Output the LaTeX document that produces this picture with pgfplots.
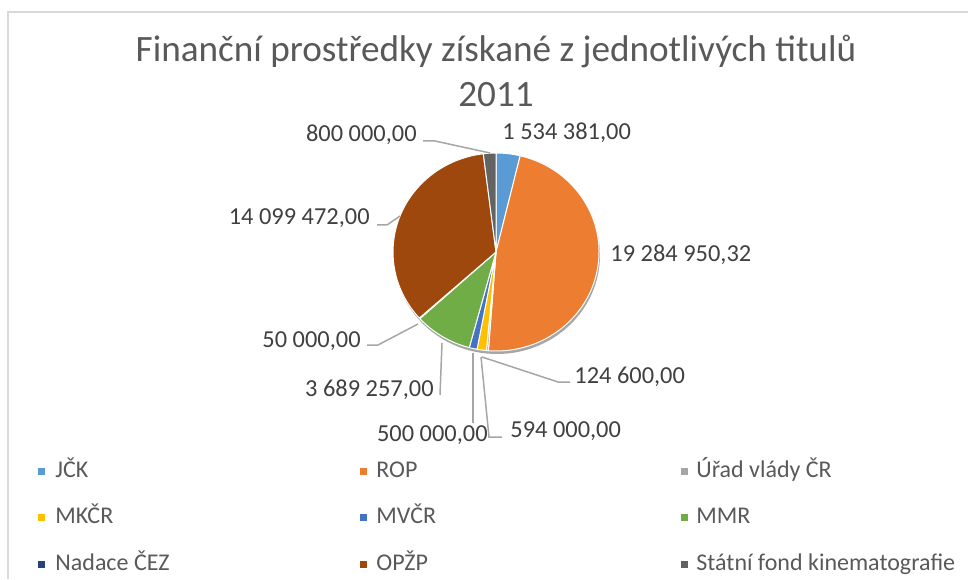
\documentclass[border=0pt]{standalone}
\usepackage{fontspec}
\setmainfont{Carlito}
\usepackage{pgfplots}
\usepackage{pgfplotstable}
\pgfplotsset{compat=1.18}

\definecolor{c0}{HTML}{5B9BD5}
\definecolor{c1}{HTML}{ED7D31}
\definecolor{c2}{HTML}{A5A5A5}
\definecolor{c3}{HTML}{FFC000}
\definecolor{c4}{HTML}{4472C4}
\definecolor{c5}{HTML}{70AD47}
\definecolor{c6}{HTML}{264478}
\definecolor{c7}{HTML}{9E480E}
\definecolor{c8}{HTML}{636363}
\definecolor{txt}{HTML}{404040}
\definecolor{ttl}{HTML}{595959}
\definecolor{lead}{HTML}{A6A6A6}
\definecolor{frm}{HTML}{D9D9D9}

\pgfplotstableread[col sep=comma]{
name,value
JČK,1534381.00
ROP,19284950.32
Úřad vlády ČR,124600.00
MKČR,594000.00
MVČR,500000.00
MMR,3689257.00
Nadace ČEZ,50000.00
OPŽP,14099472.00
Státní fond kinematografie,800000.00
}\piedata

\begin{document}
\begin{tikzpicture}
\path[use as bounding box] (0,0) rectangle (484pt,289.5pt);
% angles from the data
\pgfplotstablegetrowsof{\piedata}\pgfmathtruncatemacro\nrows{\pgfplotsretval-1}
\gdef\pietotal{0}
\foreach \i in {0,...,\nrows}{%
  \pgfplotstablegetelem{\i}{value}\of\piedata
  \xdef\pietotal{\fpeval{\pietotal+\pgfplotsretval}}%
}
\gdef\piecum{0}
\foreach \i in {0,...,\nrows}{%
  \pgfplotstablegetelem{\i}{value}\of\piedata
  \expandafter\xdef\csname pieS\i\endcsname{\fpeval{90-360*\piecum/\pietotal}}%
  \xdef\piecum{\fpeval{\piecum+\pgfplotsretval}}%
  \expandafter\xdef\csname pieE\i\endcsname{\fpeval{90-360*\piecum/\pietotal}}%
}
\begin{axis}[
  x=0.5pt, y=0.5pt, xmin=0, xmax=968, ymin=0, ymax=579,
  hide axis, clip=false, at={(0,0)}, anchor=origin,
]
% frame
\draw[frm, line width=1pt] (axis cs:8,0) -- (axis cs:8,567) -- (axis cs:968,567);
% title
\node[ttl, anchor=base, inner sep=0pt, font=\fontsize{18.6}{22}\selectfont] at (axis cs:496,517) {Finanční prostředky získané z jednotlivých titulů};
\node[ttl, anchor=base, inner sep=0pt, font=\fontsize{18.6}{22}\selectfont] at (axis cs:496,472) {2011};
% shadow
\fill[black, opacity=0.35] (axis cs:497,324) ellipse [x radius=51.5pt, y radius=49.5pt];
% slices
\pgfplotsinvokeforeach{0,...,8}{
  \fill[c#1, draw=white, line width=0.5pt, line join=round] (axis cs:496,327) -- ++({\csname pieS#1\endcsname}:51.5pt and 49.5pt) arc[start angle={\csname pieS#1\endcsname}, end angle={\csname pieE#1\endcsname}, x radius=51.5pt, y radius=49.5pt] -- cycle;
}
% leader lines
\begin{scope}[lead, line width=0.75pt]
\draw (axis cs:423,438) -- (axis cs:435,438) -- (axis cs:490,426);
\draw (axis cs:377,354) -- (axis cs:387,354) -- (axis cs:400,363);
\draw (axis cs:367,234) -- (axis cs:378,234) -- (axis cs:418,255);
\draw (axis cs:440,184) -- (axis cs:442,236);
\draw (axis cs:473,156) -- (axis cs:473,226);
\draw (axis cs:502,142) -- (axis cs:489,142) -- (axis cs:481,222);
\draw (axis cs:570,197) -- (axis cs:558,197) -- (axis cs:482,222);
\end{scope}
% data labels
\begin{scope}[every node/.style={txt, inner sep=0pt, font=\fontsize{12.2}{14}\selectfont}]
\node[anchor=base west] at (axis cs:502,439) {1 534 381,00};
\node[anchor=base west] at (axis cs:610,318) {19 284 950,32};
\node[anchor=base west] at (axis cs:574,196) {124 600,00};
\node[anchor=base west] at (axis cs:510,142) {594 000,00};
\node[anchor=base east] at (axis cs:488,138) {500 000,00};
\node[anchor=base east] at (axis cs:434,183) {3 689 257,00};
\node[anchor=base east] at (axis cs:361,232) {50 000,00};
\node[anchor=base east] at (axis cs:370,354) {14 099 472,00};
\node[anchor=base east] at (axis cs:417,437) {800 000,00};
\end{scope}
% legend
\begin{scope}[every node/.style={ttl, inner sep=0pt, anchor=base west, font=\fontsize{12}{14}\selectfont}]
\fill[c0] (axis cs:38,104.5) rectangle (axis cs:45,111.5);
\node at (axis cs:55,102) {JČK};
\fill[c1] (axis cs:360,104.5) rectangle (axis cs:367,111.5);
\node at (axis cs:376,102) {ROP};
\fill[c2] (axis cs:681,104.5) rectangle (axis cs:688,111.5);
\node at (axis cs:696,102) {Úřad vlády ČR};
\fill[c3] (axis cs:38,58) rectangle (axis cs:45,65);
\node at (axis cs:55,55.5) {MKČR};
\fill[c4] (axis cs:360,58) rectangle (axis cs:367,65);
\node at (axis cs:376,55.5) {MVČR};
\fill[c5] (axis cs:681,58) rectangle (axis cs:688,65);
\node at (axis cs:696,55.5) {MMR};
\fill[c6] (axis cs:38,11.5) rectangle (axis cs:45,18.5);
\node at (axis cs:55,9) {Nadace ČEZ};
\fill[c7] (axis cs:360,11.5) rectangle (axis cs:367,18.5);
\node at (axis cs:376,9) {OPŽP};
\fill[c8] (axis cs:681,11.5) rectangle (axis cs:688,18.5);
\node at (axis cs:696,9) {Státní fond kinematografie};
\end{scope}
\end{axis}
\end{tikzpicture}
\end{document}
